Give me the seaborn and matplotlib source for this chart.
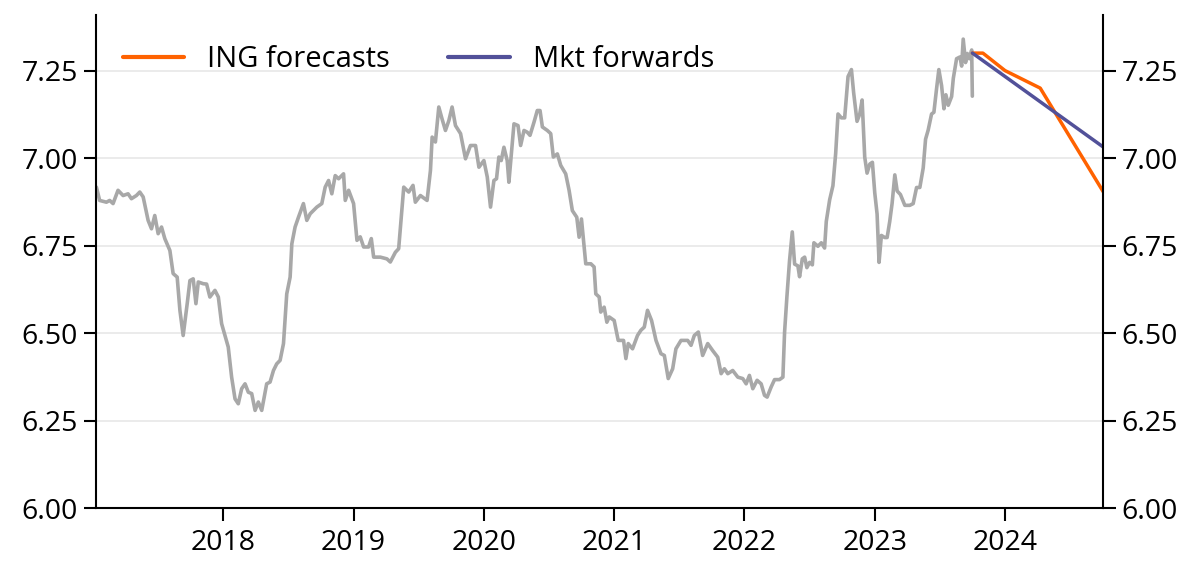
import matplotlib
matplotlib.use("Agg")
import matplotlib.pyplot as plt
import seaborn as sns
import pandas as pd

# ---------------- data ----------------
hist_years = [
    2017.026, 2017.051, 2017.103, 2017.128, 2017.154, 2017.192, 2017.231, 2017.269, 2017.295, 2017.333,
    2017.359, 2017.385, 2017.423, 2017.449, 2017.474, 2017.500, 2017.526, 2017.551, 2017.590, 2017.615,
    2017.646, 2017.667, 2017.692, 2017.723, 2017.744, 2017.769, 2017.790, 2017.808, 2017.846, 2017.872,
    2017.897, 2017.936, 2017.962, 2017.987, 2018.013, 2018.038, 2018.064, 2018.090, 2018.115, 2018.141,
    2018.167, 2018.192, 2018.218, 2018.244, 2018.269, 2018.295, 2018.333, 2018.359, 2018.385, 2018.410,
    2018.436, 2018.462, 2018.487, 2018.513, 2018.526, 2018.551, 2018.577, 2018.615, 2018.641, 2018.667,
    2018.718, 2018.756, 2018.782, 2018.808, 2018.833, 2018.859, 2018.885, 2018.923, 2018.936, 2018.962,
    2019.000, 2019.026, 2019.051, 2019.077, 2019.115, 2019.136, 2019.154, 2019.205, 2019.256, 2019.282,
    2019.321, 2019.346, 2019.385, 2019.423, 2019.456, 2019.474, 2019.513, 2019.564, 2019.590, 2019.603,
    2019.628, 2019.654, 2019.679, 2019.705, 2019.731, 2019.756, 2019.782, 2019.821, 2019.859, 2019.897,
    2019.936, 2019.962, 2020.000, 2020.026, 2020.051, 2020.077, 2020.097, 2020.115, 2020.133, 2020.154,
    2020.179, 2020.192, 2020.231, 2020.262, 2020.282, 2020.308, 2020.333, 2020.354, 2020.385, 2020.410,
    2020.431, 2020.449, 2020.487, 2020.513, 2020.533, 2020.564, 2020.590, 2020.628, 2020.654, 2020.679,
    2020.713, 2020.731, 2020.749, 2020.782, 2020.821, 2020.846, 2020.859, 2020.885, 2020.897, 2020.923,
    2020.944, 2020.962, 2021.000, 2021.031, 2021.072, 2021.090, 2021.108, 2021.141, 2021.179, 2021.205,
    2021.231, 2021.256, 2021.287, 2021.321, 2021.359, 2021.385, 2021.415, 2021.449, 2021.474, 2021.513,
    2021.564, 2021.590, 2021.615, 2021.646, 2021.679, 2021.718, 2021.756, 2021.795, 2021.821, 2021.846,
    2021.872, 2021.910, 2021.949, 2021.987, 2022.013, 2022.038, 2022.064, 2022.097, 2022.128, 2022.154,
    2022.174, 2022.205, 2022.231, 2022.269, 2022.295, 2022.308, 2022.326, 2022.346, 2022.367, 2022.385,
    2022.410, 2022.423, 2022.444, 2022.462, 2022.479, 2022.500, 2022.521, 2022.533, 2022.564, 2022.590,
    2022.615, 2022.628, 2022.654, 2022.679, 2022.700, 2022.718, 2022.744, 2022.769, 2022.795, 2022.821,
    2022.838, 2022.864, 2022.885, 2022.903, 2022.923, 2022.941, 2022.962, 2022.982, 2023.000, 2023.018,
    2023.033, 2023.051, 2023.077, 2023.095, 2023.115, 2023.133, 2023.154, 2023.172, 2023.197, 2023.231,
    2023.269, 2023.295, 2023.321, 2023.346, 2023.372, 2023.390, 2023.410, 2023.436, 2023.454, 2023.474,
    2023.492, 2023.513, 2023.531, 2023.546, 2023.564, 2023.590, 2023.603, 2023.628, 2023.654, 2023.667,
    2023.679, 2023.697, 2023.710, 2023.726, 2023.744, 2023.749,
]
hist_values = [
    6.917, 6.879, 6.874, 6.879, 6.870, 6.908, 6.893, 6.898, 6.884, 6.893,
    6.903, 6.889, 6.822, 6.798, 6.836, 6.784, 6.803, 6.770, 6.736, 6.670,
    6.660, 6.565, 6.493, 6.584, 6.650, 6.655, 6.584, 6.646, 6.641, 6.640,
    6.603, 6.622, 6.603, 6.527, 6.493, 6.460, 6.374, 6.312, 6.298, 6.341,
    6.355, 6.331, 6.327, 6.279, 6.303, 6.279, 6.355, 6.360, 6.393, 6.412,
    6.422, 6.470, 6.612, 6.660, 6.755, 6.803, 6.831, 6.870, 6.822, 6.841,
    6.860, 6.870, 6.917, 6.936, 6.898, 6.950, 6.941, 6.955, 6.879, 6.908,
    6.870, 6.765, 6.775, 6.746, 6.746, 6.770, 6.717, 6.717, 6.712, 6.703,
    6.731, 6.741, 6.917, 6.903, 6.922, 6.874, 6.893, 6.879, 6.965, 7.060,
    7.046, 7.146, 7.112, 7.079, 7.107, 7.146, 7.093, 7.070, 6.998, 7.036,
    7.036, 6.974, 6.993, 6.946, 6.860, 6.936, 6.941, 7.003, 6.993, 7.031,
    6.993, 6.931, 7.098, 7.093, 7.036, 7.079, 7.074, 7.065, 7.103, 7.136,
    7.136, 7.089, 7.079, 7.070, 7.003, 7.012, 6.979, 6.955, 6.908, 6.850,
    6.831, 6.774, 6.826, 6.698, 6.698, 6.689, 6.612, 6.603, 6.560, 6.574,
    6.531, 6.546, 6.536, 6.479, 6.479, 6.427, 6.470, 6.455, 6.493, 6.508,
    6.517, 6.565, 6.536, 6.479, 6.441, 6.436, 6.370, 6.398, 6.455, 6.479,
    6.479, 6.465, 6.493, 6.503, 6.436, 6.470, 6.450, 6.431, 6.384, 6.398,
    6.384, 6.393, 6.374, 6.370, 6.355, 6.379, 6.341, 6.365, 6.355, 6.322,
    6.317, 6.346, 6.367, 6.367, 6.374, 6.503, 6.605, 6.707, 6.789, 6.697,
    6.692, 6.661, 6.712, 6.717, 6.687, 6.702, 6.695, 6.758, 6.748, 6.758,
    6.743, 6.819, 6.881, 6.921, 7.013, 7.126, 7.115, 7.115, 7.233, 7.253,
    7.187, 7.105, 7.126, 7.166, 7.003, 6.957, 6.983, 6.988, 6.901, 6.840,
    6.702, 6.779, 6.773, 6.773, 6.819, 6.870, 6.952, 6.906, 6.896, 6.865,
    6.865, 6.870, 6.916, 6.916, 6.972, 7.054, 7.080, 7.126, 7.131, 7.197,
    7.253, 7.207, 7.141, 7.181, 7.151, 7.176, 7.228, 7.284, 7.289, 7.263,
    7.340, 7.273, 7.299, 7.284, 7.309, 7.177,
]

ing_years = [2023.75, 2023.83, 2024.00, 2024.27, 2024.76]
ing_values = [7.30, 7.30, 7.25, 7.20, 6.90]

fwd_years = [2023.75, 2024.76]
fwd_values = [7.30, 7.03]

year_ticks = [2018, 2019, 2020, 2021, 2022, 2023, 2024]
y_ticks = [6.00, 6.25, 6.50, 6.75, 7.00, 7.25]
series_labels = ["ING forecasts", "Mkt forwards"]

# ---------------- style ----------------
sns.set_theme(style="white")
plt.rcParams["font.family"] = ["Open Sans", "DejaVu Sans"]

GRAY = "#A8A8A8"
ORANGE = "#FF6200"
PURPLE = "#525199"

fig = plt.figure(figsize=(12, 5.76), dpi=100)
ax = fig.add_axes([0.08, 0.118, 0.8394, 0.856])

hist_df = pd.DataFrame({"year": hist_years, "value": hist_values})
ing_df = pd.DataFrame({"year": ing_years, "value": ing_values})
fwd_df = pd.DataFrame({"year": fwd_years, "value": fwd_values})

sns.lineplot(data=hist_df, x="year", y="value", ax=ax, color=GRAY, linewidth=2.6,
             estimator=None, legend=False)
sns.lineplot(data=ing_df, x="year", y="value", ax=ax, color=ORANGE, linewidth=2.5,
             estimator=None, label=series_labels[0])
sns.lineplot(data=fwd_df, x="year", y="value", ax=ax, color=PURPLE, linewidth=2.5,
             estimator=None, label=series_labels[1])

ax.set_xlim(2017.023, 2024.754)
ax.set_ylim(6.0, 7.409)
ax.set_xticks(year_ticks)
ax.set_xticklabels([str(y) for y in year_ticks])
ax.set_yticks(y_ticks)
ax.set_yticklabels([f"{v:.2f}" for v in y_ticks])
ax.set_xlabel("")
ax.set_ylabel("")

for yv in y_ticks[1:]:
    ax.axhline(yv, color="#EBEBEB", linewidth=1.4, zorder=0)

for side in ["left", "right", "bottom"]:
    ax.spines[side].set_visible(True)
    ax.spines[side].set_color("black")
    ax.spines[side].set_linewidth(1.5)
ax.spines["top"].set_visible(False)

ax.yaxis.set_ticks_position("both")
ax.tick_params(axis="y", which="both", direction="out", length=9, width=1.5,
               color="black", labelsize=20.5, labelcolor="black",
               left=True, right=True, labelleft=True, labelright=True, pad=4)
ax.tick_params(axis="x", direction="out", length=9, width=1.5, color="black",
               labelsize=20.5, labelcolor="black", bottom=True, pad=6)

leg = ax.legend(loc="upper left", bbox_to_anchor=(0.015, 0.962), ncol=2, frameon=False,
                fontsize=21, handlelength=2.1, handletextpad=0.8, columnspacing=2.0,
                borderaxespad=0, labelcolor="black")
for line in leg.get_lines():
    line.set_linewidth(3)

fig.savefig("out.png", dpi=100)
